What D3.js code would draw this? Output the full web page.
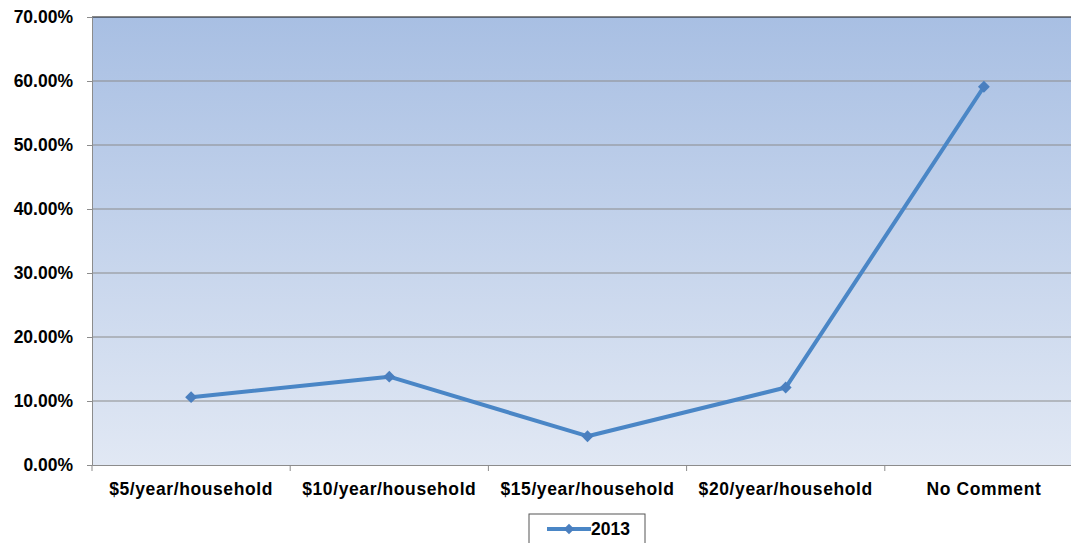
<!DOCTYPE html>
<html>
<head>
<meta charset="utf-8">
<script src="https://cdn.jsdelivr.net/npm/d3@7"></script>
<style>
  body { margin: 0; background: #fff; }
  svg { display: block; font-family: "Liberation Sans", Arial, sans-serif; }
</style>
</head>
<body>
<svg id="chart" width="1071" height="543"></svg>
<script>
// chart data
const categories = ['$5/year/household', '$10/year/household', '$15/year/household', '$20/year/household', 'No Comment'];
const values2013 = [0.106, 0.138, 0.045, 0.121, 0.591];
const yTicks = [0, 0.1, 0.2, 0.3, 0.4, 0.5, 0.6, 0.7];
const seriesName = '2013';

const margin = { top: 17, left: 92 };
const plotW = 991, plotH = 448;
const fontSize = 17.5;

const svg = d3.select('#chart');

const defs = svg.append('defs');
const grad = defs.append('linearGradient')
    .attr('id', 'bg').attr('x1', 0).attr('y1', 0).attr('x2', 0).attr('y2', 1);
grad.append('stop').attr('offset', '0%').attr('stop-color', '#a8bfe3');
grad.append('stop').attr('offset', '100%').attr('stop-color', '#e1e8f4');

const g = svg.append('g').attr('transform', `translate(${margin.left},${margin.top})`);

const x = d3.scaleBand().domain(categories).range([0, plotW]);
const y = d3.scaleLinear().domain([0, 0.7]).range([plotH, 0]);

g.append('rect')
    .attr('width', plotW).attr('height', plotH)
    .attr('fill', 'url(#bg)');

// gridlines
g.selectAll('.grid').data(yTicks.slice(1, -1)).join('line')
    .attr('x1', 0).attr('x2', plotW)
    .attr('y1', d => y(d)).attr('y2', d => y(d))
    .attr('stroke', '#8c8c8c').attr('stroke-width', 1.2);

// top border
g.append('line').attr('x1', 0).attr('x2', plotW).attr('y1', 0).attr('y2', 0)
    .attr('stroke', '#111').attr('stroke-width', 1.2);

// y axis
const yAxis = g.append('g')
    .call(d3.axisLeft(y).tickValues(yTicks).tickFormat(d3.format('.2%')).tickSize(5).tickPadding(14));
yAxis.select('.domain').attr('stroke', '#8c8c8c');
yAxis.selectAll('.tick line').attr('stroke', '#8c8c8c');
yAxis.selectAll('text').attr('font-size', fontSize).attr('font-weight', 'bold').attr('fill', '#000')
    .attr('font-family', '"Liberation Sans", Arial, sans-serif');

// x axis
const xAxis = g.append('g').attr('transform', `translate(0,${plotH})`)
    .call(d3.axisBottom(x).tickSize(0).tickPadding(18));
xAxis.select('.domain').attr('stroke', '#8c8c8c').attr('stroke-width', 1.2);
xAxis.selectAll('text').attr('font-size', fontSize).attr('font-weight', 'bold').attr('fill', '#000')
    .attr('letter-spacing', 0.6)
    .attr('font-family', '"Liberation Sans", Arial, sans-serif');
g.selectAll('.xtick').data(categories).join('line')
    .attr('x1', d => x(d)).attr('x2', d => x(d))
    .attr('y1', plotH).attr('y2', plotH + 6)
    .attr('stroke', '#8c8c8c');

// series
const pts = categories.map((c, i) => [x(c) + x.bandwidth() / 2, y(values2013[i])]);
g.append('path')
    .datum(pts)
    .attr('fill', 'none')
    .attr('stroke', '#4a86c6')
    .attr('stroke-width', 4)
    .attr('stroke-linejoin', 'round')
    .attr('d', d3.line());
g.selectAll('.marker').data(pts).join('path')
    .attr('transform', d => `translate(${d[0]},${d[1]})`)
    .attr('d', d3.symbol(d3.symbolDiamond2, 90))
    .attr('fill', '#4a7fbf');

// legend
const lg = svg.append('g').attr('transform', 'translate(529,514)');
lg.append('rect').attr('width', 116).attr('height', 40)
    .attr('fill', '#fff').attr('stroke', '#555').attr('stroke-width', 1);
lg.append('line').attr('x1', 18).attr('x2', 62).attr('y1', 15).attr('y2', 15)
    .attr('stroke', '#4a86c6').attr('stroke-width', 4);
lg.append('path').attr('transform', 'translate(40,15)')
    .attr('d', d3.symbol(d3.symbolDiamond2, 70)).attr('fill', '#4a7fbf');
lg.append('text').attr('x', 62).attr('y', 21)
    .attr('font-size', fontSize).attr('font-weight', 'bold').text(seriesName);
</script>
</body>
</html>
